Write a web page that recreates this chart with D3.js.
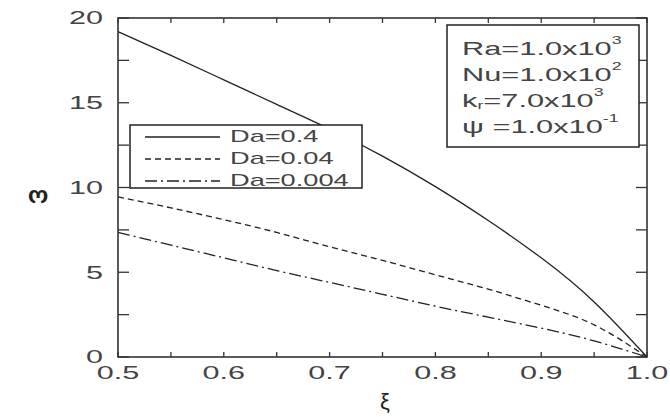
<!DOCTYPE html>
<html>
<head>
<meta charset="utf-8">
<script src="https://cdn.jsdelivr.net/npm/d3@7"></script>
<style>
  body { margin: 0; background: #fff; }
  text { font-family: "Liberation Sans", Arial, sans-serif; }
</style>
</head>
<body>
<div id="chart"></div>
<script>
// Data
const xiValues = [0.5, 0.55, 0.6, 0.65, 0.7, 0.75, 0.8, 0.85, 0.9, 0.95, 1.0];
const omegaDa04 = [19.2, 17.8, 16.35, 14.9, 13.45, 11.85, 10.05, 8.05, 5.85, 3.25, 0];
const omegaDa004 = [9.45, 8.8, 8.1, 7.35, 6.5, 5.7, 4.85, 4.0, 3.05, 1.9, 0];
const omegaDa0004 = [7.35, 6.6, 5.85, 5.1, 4.4, 3.7, 3.0, 2.35, 1.7, 0.95, 0];
const seriesLabels = ["Da=0.4", "Da=0.04", "Da=0.004"];
const xTickLabels = ["0.5", "0.6", "0.7", "0.8", "0.9", "1.0"];
const yTickLabels = ["0", "5", "10", "15", "20"];

const width = 670, height = 418;
const plotLeft = 118, plotRight = 647, plotTop = 18, plotBottom = 357;

const svg = d3.select("#chart").append("svg")
    .attr("width", width)
    .attr("height", height);

const x = d3.scaleLinear().domain([0.5, 1.0]).range([plotLeft, plotRight]);
const y = d3.scaleLinear().domain([0, 20]).range([plotBottom, plotTop]);

// stretched text, the reference glyphs are wide
function wideText(g, tx, ty, str, size, sx, anchor) {
    return g.append("text")
        .attr("transform", `translate(${tx},${ty}) scale(${sx},1)`)
        .attr("text-anchor", anchor || "start")
        .attr("dominant-baseline", "central")
        .style("font-size", size + "px")
        .attr("fill", "#444")
        .text(str);
}

// ticks on all four sides, pointing in
const xTicks = d3.range(0.5, 1.0001, 0.05);
const yTicks = d3.range(0, 20.001, 2.5);
const tickG = svg.append("g").attr("stroke", "#333").attr("stroke-width", 1.3);
xTicks.forEach(t => {
    tickG.append("line").attr("x1", x(t)).attr("x2", x(t)).attr("y1", plotBottom).attr("y2", plotBottom - 5);
    tickG.append("line").attr("x1", x(t)).attr("x2", x(t)).attr("y1", plotTop).attr("y2", plotTop + 5);
});
yTicks.forEach(t => {
    tickG.append("line").attr("x1", plotLeft).attr("x2", plotLeft + 11).attr("y1", y(t)).attr("y2", y(t));
    tickG.append("line").attr("x1", plotRight).attr("x2", plotRight - 11).attr("y1", y(t)).attr("y2", y(t));
});

// tick labels
xTickLabels.forEach(s => wideText(svg, x(+s), 373, s, 18, 1.7, "middle"));
yTickLabels.forEach(s => wideText(svg, 103, y(+s), s, 18, 1.7, "end"));

// curves
const line = d3.line()
    .x((d, i) => x(xiValues[i]))
    .y(d => y(d))
    .curve(d3.curveNatural);

const dashes = [null, "6,4", "12,4,2,4"];
const allSeries = [omegaDa04, omegaDa004, omegaDa0004];
allSeries.forEach((s, i) => {
    svg.append("path")
        .attr("d", line(s))
        .attr("fill", "none")
        .attr("stroke", "#222")
        .attr("stroke-width", 1.3)
        .attr("stroke-dasharray", dashes[i]);
});

// frame
svg.append("rect")
    .attr("x", plotLeft).attr("y", plotTop)
    .attr("width", plotRight - plotLeft).attr("height", plotBottom - plotTop)
    .attr("fill", "none").attr("stroke", "#333").attr("stroke-width", 1.6);

// legend
const legend = svg.append("g");
legend.append("rect")
    .attr("x", 130).attr("y", 125).attr("width", 232).attr("height", 63)
    .attr("fill", "#fff").attr("stroke", "#222").attr("stroke-width", 1.5);
seriesLabels.forEach((lab, i) => {
    const ly = 137 + i * 22;
    legend.append("line")
        .attr("x1", 145).attr("x2", 220).attr("y1", ly).attr("y2", ly)
        .attr("stroke", "#222").attr("stroke-width", 1.3)
        .attr("stroke-dasharray", dashes[i]);
    wideText(legend, 230, ly, lab, 16, 1.7, "start");
});

// parameter box
const info = svg.append("g");
info.append("rect")
    .attr("x", 447).attr("y", 25).attr("width", 192).attr("height", 122)
    .attr("fill", "#fff").attr("stroke", "#222").attr("stroke-width", 1.5);
const infoLines = [
    ["Ra=1.0x10", "3", ""],
    ["Nu=1.0x10", "2", ""],
    ["k", "r", "=7.0x10", "3"],
    ["\u03c8 =1.0x10", "-1", ""]
];
infoLines.forEach((parts, i) => {
    const t = wideText(info, 462, 48 + i * 26, "", 19, 1.62, "start");
    if (parts.length === 4) {
        t.append("tspan").text(parts[0]);
        t.append("tspan").attr("dy", 5).style("font-size", "11px").text(parts[1]);
        t.append("tspan").attr("dy", -5).text(parts[2]);
        t.append("tspan").attr("dy", -8).style("font-size", "11px").text(parts[3]);
    } else {
        t.append("tspan").text(parts[0]);
        t.append("tspan").attr("dy", -8).style("font-size", "11px").text(parts[1]);
    }
});

// axis titles
svg.append("text")
    .attr("transform", "translate(38,198) rotate(180)")
    .attr("text-anchor", "middle")
    .attr("dominant-baseline", "central")
    .style("font-size", "24px")
    .style("font-weight", "bold")
    .attr("fill", "#222")
    .text("\u03c9");
svg.append("text")
    .attr("x", 385).attr("y", 401)
    .attr("text-anchor", "middle")
    .attr("dominant-baseline", "central")
    .style("font-size", "22px")
    .attr("fill", "#222")
    .text("\u03be");
</script>
</body>
</html>
